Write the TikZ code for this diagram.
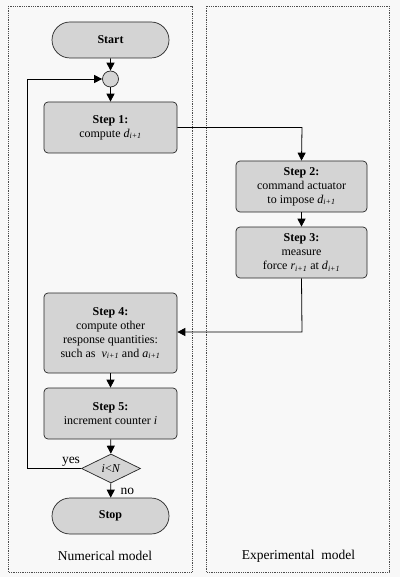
\documentclass[tikz,border=0pt]{standalone}
\usepackage{fontspec}
\setmainfont{Liberation Serif}
\usetikzlibrary{shapes.geometric,arrows.meta}
\definecolor{boxfill}{HTML}{D4D4D4}
\definecolor{bgcol}{HTML}{F8F8F8}
\tikzset{
  x=1pt,y=-1pt,
  panel/.style={draw=black!70,densely dotted,line width=0.8pt},
  stepbox/.style={draw=black!85,fill=boxfill,rounded corners=4pt,line width=0.7pt,align=center,minimum width=133pt,inner sep=0pt,font=\fontsize{12}{14}\selectfont},
  term/.style={draw=black!85,fill=boxfill,rounded rectangle,line width=0.7pt,minimum width=117pt,minimum height=36pt,inner sep=0pt,font=\fontsize{12}{14}\selectfont\bfseries},
  arr/.style={-{Triangle[length=8pt,width=8pt]},line width=0.8pt},
  ln/.style={line width=0.8pt},
  lbl/.style={font=\fontsize{13.5}{15}\selectfont},
}
\usetikzlibrary{shapes.misc}
\newcommand{\iv}[1]{\textit{#1}\textsubscript{\textit{i+1}}}
\begin{document}
\begin{tikzpicture}
\useasboundingbox[fill=bgcol] (0,0) rectangle (400,577);
\draw[panel] (8,6) rectangle (192,572);
\draw[panel] (206,6) rectangle (389,572);
\node[term] (start) at (110.5,40) {Start};
\node[circle,draw=black!85,fill=boxfill,minimum size=16pt,inner sep=0pt,line width=0.7pt] (join) at (110.5,79) {};
\node[stepbox,minimum height=51pt] (s1) at (110.5,127.5) {\textbf{Step 1:}\\compute \iv{d}};
\node[stepbox,minimum width=131pt,minimum height=51pt] (s2) at (301.5,186.5) {\textbf{Step 2:}\\command actuator\\to impose \iv{d}};
\node[stepbox,minimum width=131pt,minimum height=51pt] (s3) at (301.5,252.5) {\textbf{Step 3:}\\measure\\force \iv{r} at \iv{d}};
\node[stepbox,minimum height=80pt] (s4) at (110.5,333) {\textbf{Step 4:}\\compute other\\response quantities:\\such as\ \ \iv{v} and \iv{a}};
\node[stepbox,minimum height=51pt] (s5) at (110.5,413.5) {\textbf{Step 5:}\\increment counter \textit{i}};
\node[diamond,draw=black!85,fill=boxfill,aspect=2,minimum width=59pt,minimum height=29pt,inner sep=0pt,line width=0.7pt,font=\fontsize{12}{14}\selectfont] (dec) at (111,468.5) {\textit{i}<\textit{N}};
\node[term] (stop) at (110.5,516) {Stop};
\coordinate (c1) at (302,127.5);
\coordinate (c2) at (302,332);
\coordinate (y1) at (27,468.5);
\coordinate (y2) at (27,79);
\draw[arr] (start) -- (join);
\draw[arr] (join) -- (s1);
\draw[arr] (s1.east) -- (c1) -- (s2.north);
\draw[arr] (s2) -- (s3);
\draw[arr] (s3.south) -- (c2) -- (s4.east |- c2);
\draw[arr] (s4) -- (s5);
\draw[arr] (s5) -- (dec);
\draw[arr] (dec) -- (stop);
\draw[arr] (dec.west) -- (y1) -- (y2) -- (join.west);
\node[lbl,anchor=south] (yes) at (71,470) {yes};
\node[lbl,anchor=west] (no) at (117,491) {no};
\node[lbl] (num) at (105,556) {Numerical model};
\node[lbl] (exp) at (298.5,556) {Experimental\ \ model};
\end{tikzpicture}
\end{document}
